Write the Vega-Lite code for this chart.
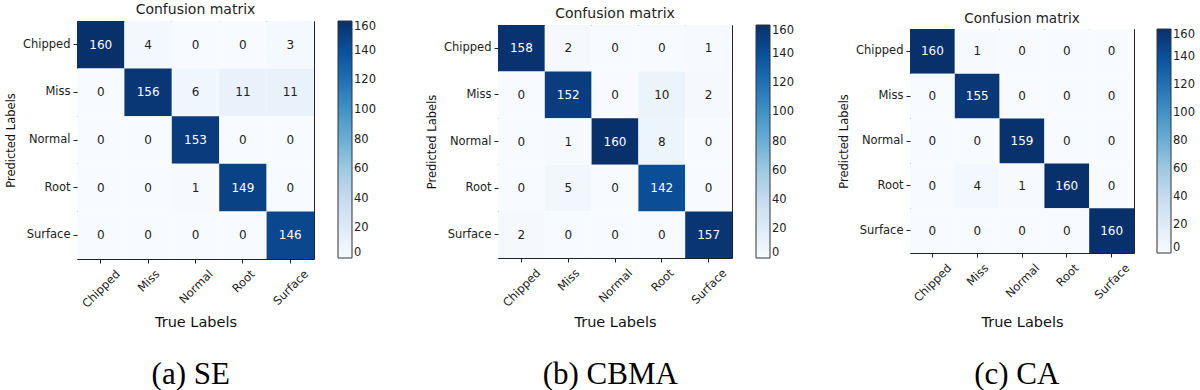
{
  "$schema": "https://vega.github.io/schema/vega-lite/v6.json",
  "background": "white",
  "padding": {"left": 5, "top": 1, "right": 0, "bottom": 0},
  "datasets": {
    "cm": [
      {"model": "SE", "pred": "Chipped", "true": "Chipped", "value": 160},
      {"model": "SE", "pred": "Chipped", "true": "Miss", "value": 4},
      {"model": "SE", "pred": "Chipped", "true": "Normal", "value": 0},
      {"model": "SE", "pred": "Chipped", "true": "Root", "value": 0},
      {"model": "SE", "pred": "Chipped", "true": "Surface", "value": 3},
      {"model": "SE", "pred": "Miss", "true": "Chipped", "value": 0},
      {"model": "SE", "pred": "Miss", "true": "Miss", "value": 156},
      {"model": "SE", "pred": "Miss", "true": "Normal", "value": 6},
      {"model": "SE", "pred": "Miss", "true": "Root", "value": 11},
      {"model": "SE", "pred": "Miss", "true": "Surface", "value": 11},
      {"model": "SE", "pred": "Normal", "true": "Chipped", "value": 0},
      {"model": "SE", "pred": "Normal", "true": "Miss", "value": 0},
      {"model": "SE", "pred": "Normal", "true": "Normal", "value": 153},
      {"model": "SE", "pred": "Normal", "true": "Root", "value": 0},
      {"model": "SE", "pred": "Normal", "true": "Surface", "value": 0},
      {"model": "SE", "pred": "Root", "true": "Chipped", "value": 0},
      {"model": "SE", "pred": "Root", "true": "Miss", "value": 0},
      {"model": "SE", "pred": "Root", "true": "Normal", "value": 1},
      {"model": "SE", "pred": "Root", "true": "Root", "value": 149},
      {"model": "SE", "pred": "Root", "true": "Surface", "value": 0},
      {"model": "SE", "pred": "Surface", "true": "Chipped", "value": 0},
      {"model": "SE", "pred": "Surface", "true": "Miss", "value": 0},
      {"model": "SE", "pred": "Surface", "true": "Normal", "value": 0},
      {"model": "SE", "pred": "Surface", "true": "Root", "value": 0},
      {"model": "SE", "pred": "Surface", "true": "Surface", "value": 146},
      {"model": "CBMA", "pred": "Chipped", "true": "Chipped", "value": 158},
      {"model": "CBMA", "pred": "Chipped", "true": "Miss", "value": 2},
      {"model": "CBMA", "pred": "Chipped", "true": "Normal", "value": 0},
      {"model": "CBMA", "pred": "Chipped", "true": "Root", "value": 0},
      {"model": "CBMA", "pred": "Chipped", "true": "Surface", "value": 1},
      {"model": "CBMA", "pred": "Miss", "true": "Chipped", "value": 0},
      {"model": "CBMA", "pred": "Miss", "true": "Miss", "value": 152},
      {"model": "CBMA", "pred": "Miss", "true": "Normal", "value": 0},
      {"model": "CBMA", "pred": "Miss", "true": "Root", "value": 10},
      {"model": "CBMA", "pred": "Miss", "true": "Surface", "value": 2},
      {"model": "CBMA", "pred": "Normal", "true": "Chipped", "value": 0},
      {"model": "CBMA", "pred": "Normal", "true": "Miss", "value": 1},
      {"model": "CBMA", "pred": "Normal", "true": "Normal", "value": 160},
      {"model": "CBMA", "pred": "Normal", "true": "Root", "value": 8},
      {"model": "CBMA", "pred": "Normal", "true": "Surface", "value": 0},
      {"model": "CBMA", "pred": "Root", "true": "Chipped", "value": 0},
      {"model": "CBMA", "pred": "Root", "true": "Miss", "value": 5},
      {"model": "CBMA", "pred": "Root", "true": "Normal", "value": 0},
      {"model": "CBMA", "pred": "Root", "true": "Root", "value": 142},
      {"model": "CBMA", "pred": "Root", "true": "Surface", "value": 0},
      {"model": "CBMA", "pred": "Surface", "true": "Chipped", "value": 2},
      {"model": "CBMA", "pred": "Surface", "true": "Miss", "value": 0},
      {"model": "CBMA", "pred": "Surface", "true": "Normal", "value": 0},
      {"model": "CBMA", "pred": "Surface", "true": "Root", "value": 0},
      {"model": "CBMA", "pred": "Surface", "true": "Surface", "value": 157},
      {"model": "CA", "pred": "Chipped", "true": "Chipped", "value": 160},
      {"model": "CA", "pred": "Chipped", "true": "Miss", "value": 1},
      {"model": "CA", "pred": "Chipped", "true": "Normal", "value": 0},
      {"model": "CA", "pred": "Chipped", "true": "Root", "value": 0},
      {"model": "CA", "pred": "Chipped", "true": "Surface", "value": 0},
      {"model": "CA", "pred": "Miss", "true": "Chipped", "value": 0},
      {"model": "CA", "pred": "Miss", "true": "Miss", "value": 155},
      {"model": "CA", "pred": "Miss", "true": "Normal", "value": 0},
      {"model": "CA", "pred": "Miss", "true": "Root", "value": 0},
      {"model": "CA", "pred": "Miss", "true": "Surface", "value": 0},
      {"model": "CA", "pred": "Normal", "true": "Chipped", "value": 0},
      {"model": "CA", "pred": "Normal", "true": "Miss", "value": 0},
      {"model": "CA", "pred": "Normal", "true": "Normal", "value": 159},
      {"model": "CA", "pred": "Normal", "true": "Root", "value": 0},
      {"model": "CA", "pred": "Normal", "true": "Surface", "value": 0},
      {"model": "CA", "pred": "Root", "true": "Chipped", "value": 0},
      {"model": "CA", "pred": "Root", "true": "Miss", "value": 4},
      {"model": "CA", "pred": "Root", "true": "Normal", "value": 1},
      {"model": "CA", "pred": "Root", "true": "Root", "value": 160},
      {"model": "CA", "pred": "Root", "true": "Surface", "value": 0},
      {"model": "CA", "pred": "Surface", "true": "Chipped", "value": 0},
      {"model": "CA", "pred": "Surface", "true": "Miss", "value": 0},
      {"model": "CA", "pred": "Surface", "true": "Normal", "value": 0},
      {"model": "CA", "pred": "Surface", "true": "Root", "value": 0},
      {"model": "CA", "pred": "Surface", "true": "Surface", "value": 160}
    ]
  },
  "data": {"name": "cm"},
  "spacing": 43,
  "resolve": {"scale": {"color": "independent"}, "legend": {"color": "independent"}},
  "hconcat": [
    {
      "spacing": 49,
      "resolve": {"scale": {"color": "independent"}, "legend": {"color": "independent"}},
      "hconcat": [
        {
          "title": {"text": "(a) SE", "orient": "bottom", "anchor": "middle", "font": "Liberation Serif", "fontSize": 31, "fontWeight": "normal", "color": "black", "offset": 30},
          "resolve": {"scale": {"color": "independent"}},
          "spacing": 0,
          "vconcat": [
            {"data": {"values": []}, "width": 1, "height": 1, "view": {"stroke": null}, "mark": {"type": "point", "opacity": 0}},
            {
              "width": 237, "height": 238,
              "title": {"text": "Confusion matrix", "font": "DejaVu Sans", "fontSize": 14, "fontWeight": "normal", "color": "#222", "offset": 4},
              "transform": [{"filter": "datum.model === 'SE'"}],
              "encoding": {
                "x": {"field": "true", "type": "nominal", "sort": ["Chipped", "Miss", "Normal", "Root", "Surface"], "title": "True Labels"},
                "y": {"field": "pred", "type": "nominal", "sort": ["Chipped", "Miss", "Normal", "Root", "Surface"], "title": "Predicted Labels"}
              },
              "layer": [
                {"mark": {"type": "rect"}, "encoding": {"color": {"field": "value", "type": "quantitative", "scale": {"domain": [0, 20, 40, 60, 80, 100, 120, 140, 160], "range": ["#f7fbff", "#deebf7", "#c6dbef", "#9ecae1", "#6baed6", "#4292c6", "#2171b5", "#08519c", "#08306b"]}, "legend": {"title": null, "gradientLength": 237, "gradientThickness": 14, "offset": 24, "values": [0, 20, 40, 60, 80, 100, 120, 140, 160]}}}},
                {"mark": {"type": "text", "font": "DejaVu Sans", "fontSize": 12}, "encoding": {"text": {"field": "value", "type": "quantitative"}, "color": {"condition": {"test": "datum.value > 80", "value": "white"}, "value": "#222"}}}
              ]
            }
          ]
        },
        {
          "title": {"text": "(b) CBMA", "orient": "bottom", "anchor": "middle", "font": "Liberation Serif", "fontSize": 31, "fontWeight": "normal", "color": "black", "offset": 30},
          "resolve": {"scale": {"color": "independent"}},
          "spacing": 4,
          "vconcat": [
            {"data": {"values": []}, "width": 1, "height": 1, "view": {"stroke": null}, "mark": {"type": "point", "opacity": 0}},
            {
              "width": 234, "height": 233,
              "title": {"text": "Confusion matrix", "font": "DejaVu Sans", "fontSize": 14, "fontWeight": "normal", "color": "#222", "offset": 4},
              "transform": [{"filter": "datum.model === 'CBMA'"}],
              "encoding": {
                "x": {"field": "true", "type": "nominal", "sort": ["Chipped", "Miss", "Normal", "Root", "Surface"], "title": "True Labels", "axis": {"titlePadding": 7}},
                "y": {"field": "pred", "type": "nominal", "sort": ["Chipped", "Miss", "Normal", "Root", "Surface"], "title": "Predicted Labels"}
              },
              "layer": [
                {"mark": {"type": "rect"}, "encoding": {"color": {"field": "value", "type": "quantitative", "scale": {"domain": [0, 20, 40, 60, 80, 100, 120, 140, 160], "range": ["#f7fbff", "#deebf7", "#c6dbef", "#9ecae1", "#6baed6", "#4292c6", "#2171b5", "#08519c", "#08306b"]}, "legend": {"title": null, "gradientLength": 233, "gradientThickness": 14, "offset": 24, "values": [0, 20, 40, 60, 80, 100, 120, 140, 160]}}}},
                {"mark": {"type": "text", "font": "DejaVu Sans", "fontSize": 12}, "encoding": {"text": {"field": "value", "type": "quantitative"}, "color": {"condition": {"test": "datum.value > 80", "value": "white"}, "value": "#222"}}}
              ]
            }
          ]
        }
      ]
    },
    {
      "title": {"text": "(c) CA", "orient": "bottom", "anchor": "middle", "font": "Liberation Serif", "fontSize": 31, "fontWeight": "normal", "color": "black", "offset": 30},
      "resolve": {"scale": {"color": "independent"}},
      "spacing": 9,
      "vconcat": [
        {"data": {"values": []}, "width": 1, "height": 1, "view": {"stroke": null}, "mark": {"type": "point", "opacity": 0}},
        {
          "width": 224, "height": 224,
          "title": {"text": "Confusion matrix", "font": "DejaVu Sans", "fontSize": 13.5, "fontWeight": "normal", "color": "#222", "offset": 4},
          "transform": [{"filter": "datum.model === 'CA'"}],
          "encoding": {
            "x": {"field": "true", "type": "nominal", "sort": ["Chipped", "Miss", "Normal", "Root", "Surface"], "title": "True Labels", "axis": {"titlePadding": 12}},
            "y": {"field": "pred", "type": "nominal", "sort": ["Chipped", "Miss", "Normal", "Root", "Surface"], "title": "Predicted Labels"}
          },
          "layer": [
            {"mark": {"type": "rect"}, "encoding": {"color": {"field": "value", "type": "quantitative", "scale": {"domain": [0, 20, 40, 60, 80, 100, 120, 140, 160], "range": ["#f7fbff", "#deebf7", "#c6dbef", "#9ecae1", "#6baed6", "#4292c6", "#2171b5", "#08519c", "#08306b"]}, "legend": {"title": null, "gradientLength": 224, "gradientThickness": 14, "offset": 23, "values": [0, 20, 40, 60, 80, 100, 120, 140, 160]}}}},
            {"mark": {"type": "text", "font": "DejaVu Sans", "fontSize": 12}, "encoding": {"text": {"field": "value", "type": "quantitative"}, "color": {"condition": {"test": "datum.value > 80", "value": "white"}, "value": "#222"}}}
          ]
        }
      ]
    }
  ],
  "config": {
    "font": "DejaVu Sans",
    "view": {"stroke": "#222", "strokeWidth": 1},
    "axis": {"labelFont": "DejaVu Sans", "labelFontSize": 11.5, "labelColor": "#222", "tickColor": "#222", "tickSize": 4, "labelPadding": 3, "domain": false, "grid": false, "titleFont": "DejaVu Sans", "titleFontWeight": "normal", "titleColor": "#111"},
    "axisX": {"labelAngle": -45, "labelAlign": "right", "labelBaseline": "top", "labelPadding": 5, "labelOffset": {"expr": "datum.value === 'Chipped' ? 13.5 : datum.value === 'Miss' ? 5.7 : datum.value === 'Normal' ? 11.6 : datum.value === 'Root' ? 6.2 : 12.3"}, "titleFontSize": 14.5, "titlePadding": 6},
    "axisY": {"titleFontSize": 11.5, "titlePadding": 6},
    "legend": {"labelFont": "DejaVu Sans", "labelFontSize": 11.5, "labelColor": "#222", "gradientStrokeColor": "#333", "gradientStrokeWidth": 1, "labelBaseline": "middle", "labelOffset": 7, "labelOverlap": false}
  }
}
